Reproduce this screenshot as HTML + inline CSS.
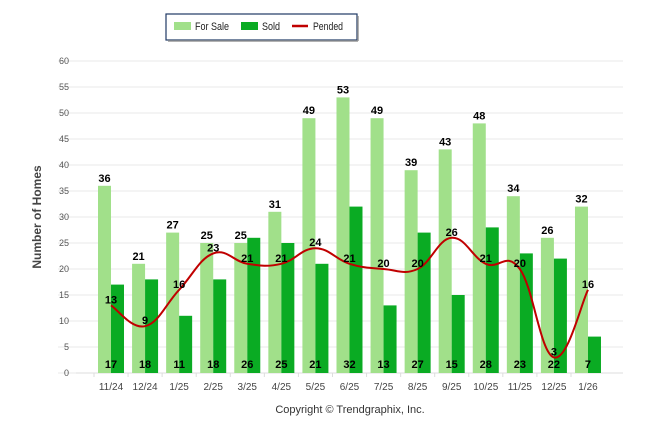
<!DOCTYPE html>
<html><head><meta charset="utf-8"><style>
body{margin:0;background:#fff;font-family:"Liberation Sans",sans-serif;}
svg text{font-family:"Liberation Sans",sans-serif;}
</style></head><body>
<svg width="646" height="434" xmlns="http://www.w3.org/2000/svg">
<g>
<rect x="166" y="14" width="191" height="26" fill="#fff" stroke="#1f3864" stroke-width="1.2"/>
<line x1="168" y1="41" x2="358" y2="41" stroke="#999" stroke-width="1.5"/>
<line x1="358" y1="16" x2="358" y2="41" stroke="#999" stroke-width="1.5"/>
<rect x="174" y="22" width="17" height="8" fill="#a1e08a"/>
<text x="195" y="30" font-size="11" fill="#222" textLength="34" lengthAdjust="spacingAndGlyphs">For Sale</text>
<rect x="241" y="22" width="17" height="8" fill="#0aab23"/>
<text x="262" y="30" font-size="11" fill="#222" textLength="18" lengthAdjust="spacingAndGlyphs">Sold</text>
<line x1="292" y1="26" x2="308" y2="26" stroke="#c00000" stroke-width="2.5"/>
<text x="313" y="30" font-size="11" fill="#222" textLength="30" lengthAdjust="spacingAndGlyphs">Pended</text>
</g>
<text x="41" y="217" font-size="12" font-weight="bold" fill="#444" text-anchor="middle" transform="rotate(-90 41 217)">Number of Homes</text>
<g id="grid"></g><g id="bars"></g><g id="line"></g><g id="labels"></g>
<text x="350" y="413" font-size="11" fill="#333" text-anchor="middle">Copyright © Trendgraphix, Inc.</text>
</svg>
<script>
const categories=["11/24","12/24","1/25","2/25","3/25","4/25","5/25","6/25","7/25","8/25","9/25","10/25","11/25","12/25","1/26"];
const forSale=[36,21,27,25,25,31,49,53,49,39,43,48,34,26,32];
const sold=[17,18,11,18,26,25,21,32,13,27,15,28,23,22,7];
const pended=[13,9,16,23,21,21,24,21,20,20,26,21,20,3,16];
const yTicks=[0,5,10,15,20,25,30,35,40,45,50,55,60];
const NS="http://www.w3.org/2000/svg";
const y=v=>373-v*5.2;
const x=i=>111+i*34.07;
function mk(t,a,p){const e=document.createElementNS(NS,t);for(const k in a)e.setAttribute(k,a[k]);p.appendChild(e);return e;}
const G=document.getElementById('grid'),B=document.getElementById('bars'),L=document.getElementById('line'),T=document.getElementById('labels');
yTicks.forEach(v=>{
 const l=mk('line',{x1:58,x2:623,y1:y(v),y2:y(v),stroke:'#e8e8e8','stroke-width':1},G);
 
 
 const t=mk('text',{x:69,y:y(v)+3,'font-size':9,fill:'#555','text-anchor':'end'},G);t.textContent=v;
 
 
});
mk('line',{x1:76,x2:623,y1:373,y2:373,stroke:'#ddd'},G);
categories.forEach((c,i)=>{
 const cx=x(i);
 mk('line',{x1:cx-17,x2:cx-17,y1:373,y2:377,stroke:'#ddd'},G);
 const t=mk('text',{x:cx,y:390,'font-size':10,fill:'#444','text-anchor':'middle'},G);t.textContent=c;
 
 
 const b1=mk('rect',{x:cx-13,y:y(forSale[i]),width:13,height:373-y(forSale[i]),fill:'#a1e08a'},B);
 
 
 const b2=mk('rect',{x:cx,y:y(sold[i]),width:13,height:373-y(sold[i]),fill:'#0aab23'},B);
 
 
 const t1=mk('text',{x:cx-6.5,y:y(forSale[i])-4,'font-size':11,'font-weight':'bold',fill:'#000','text-anchor':'middle'},T);t1.textContent=forSale[i];
 
 
 const t2=mk('text',{x:cx,y:368,'font-size':11,'font-weight':'bold',fill:'#000','text-anchor':'middle'},T);t2.textContent=sold[i];
 
 
 const t3=mk('text',{x:cx,y:y(pended[i])-2,'font-size':11,'font-weight':'bold',fill:'#000','text-anchor':'middle'},T);t3.textContent=pended[i];
 
 
});
const pts=pended.map((v,i)=>[x(i),y(v)]);
let d='M'+pts[0][0]+','+pts[0][1];
for(let i=0;i<pts.length-1;i++){
 const p0=pts[i-1]||pts[i],p1=pts[i],p2=pts[i+1],p3=pts[i+2]||p2;
 const k=0.2;
 d+=' C'+(p1[0]+(p2[0]-p0[0])*k)+','+(p1[1]+(p2[1]-p0[1])*k)+' '+(p2[0]-(p3[0]-p1[0])*k)+','+(p2[1]-(p3[1]-p1[1])*k)+' '+p2[0]+','+p2[1];
}
const pl=mk('path',{d:d,fill:'none',stroke:'#c00000','stroke-width':2},L);


</script>
</body></html>
